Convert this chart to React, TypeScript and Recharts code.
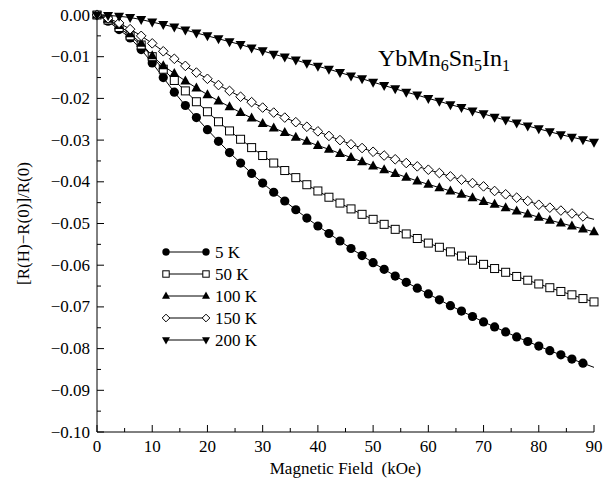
import React from 'react';
import { LineChart, Line, XAxis, YAxis } from 'recharts';

// magnetic field (kOe), one reading every 2 kOe
const fields = [
  0, 2, 4, 6, 8, 10, 12, 14, 16, 18, 20, 22, 24, 26, 28, 30, 32, 34, 36, 38, 40, 42, 44,
  46, 48, 50, 52, 54, 56, 58, 60, 62, 64, 66, 68, 70, 72, 74, 76, 78, 80, 82, 84, 86, 88, 90,
];

// [R(H)-R(0)]/R(0) for each temperature
const mr5K = [
  0, -0.0015, -0.0035, -0.0055, -0.0083, -0.0115, -0.015, -0.0185, -0.0217, -0.0246, -0.0275,
  -0.0303, -0.033, -0.0355, -0.038, -0.0403, -0.0425, -0.0446, -0.0467, -0.0487, -0.0506,
  -0.0524, -0.0542, -0.056, -0.0577, -0.0594, -0.061, -0.0626, -0.0641, -0.0655, -0.0669,
  -0.0683, -0.0697, -0.071, -0.0723, -0.0736, -0.0748, -0.076, -0.0772, -0.0783, -0.0794,
  -0.0805, -0.0815, -0.0825, -0.0835, -0.0845,
];
const mr50K = [
  0, -0.0012, -0.003, -0.005, -0.0072, -0.01, -0.013, -0.0157, -0.0182, -0.0208, -0.0232,
  -0.0256, -0.0278, -0.0298, -0.0318, -0.0337, -0.0355, -0.0373, -0.039, -0.0407, -0.0422,
  -0.0437, -0.0451, -0.0465, -0.0478, -0.049, -0.0502, -0.0514, -0.0525, -0.0536, -0.0547,
  -0.0557, -0.0568, -0.0578, -0.0588, -0.0598, -0.0608, -0.0617, -0.0627, -0.0636, -0.0645,
  -0.0654, -0.0663, -0.0671, -0.068, -0.0688,
];
const mr100K = [
  0, -0.001, -0.0025, -0.0045, -0.0068, -0.0098, -0.0122, -0.014, -0.0158, -0.0175, -0.0191,
  -0.0206, -0.022, -0.0234, -0.0247, -0.026, -0.0271, -0.0282, -0.0293, -0.0303, -0.0313,
  -0.0322, -0.0332, -0.0342, -0.0352, -0.0362, -0.0371, -0.038, -0.0389, -0.0398, -0.0406,
  -0.0414, -0.0422, -0.043, -0.0438, -0.0447, -0.0454, -0.0462, -0.047, -0.0477, -0.0485,
  -0.0492, -0.0499, -0.0506, -0.0513, -0.052,
];
const mr150K = [
  0, -0.0008, -0.0019, -0.0034, -0.005, -0.0068, -0.0087, -0.0105, -0.0122, -0.0138, -0.0153,
  -0.0168, -0.0182, -0.0196, -0.0209, -0.0222, -0.0234, -0.0246, -0.0257, -0.0268, -0.0279,
  -0.029, -0.03, -0.031, -0.0319, -0.0328, -0.0337, -0.0346, -0.0355, -0.0363, -0.0371,
  -0.0379, -0.0387, -0.0395, -0.0403, -0.0411, -0.0422, -0.043, -0.0438, -0.0446, -0.0455,
  -0.0462, -0.0469, -0.0476, -0.0483, -0.049,
];
const mr200K = [
  0, -0.0001, -0.0003, -0.0006, -0.0011, -0.0017, -0.0023, -0.0029, -0.0036, -0.0043, -0.005,
  -0.0057, -0.0064, -0.0071, -0.0079, -0.0086, -0.0094, -0.0101, -0.0108, -0.0116, -0.0123,
  -0.013, -0.0138, -0.0146, -0.0153, -0.0161, -0.0169, -0.0177, -0.0185, -0.0192, -0.02,
  -0.0207, -0.0215, -0.0222, -0.023, -0.0237, -0.0245, -0.0252, -0.0259, -0.0266, -0.0273,
  -0.028, -0.0287, -0.0293, -0.0299, -0.0305,
];

const seriesKeys = ['t5', 't50', 't100', 't150', 't200'];
const seriesNames = ['5 K', '50 K', '100 K', '150 K', '200 K'];
const seriesShapes = ['circle', 'square', 'triUp', 'diamond', 'triDown'];
// the 5 K and 150 K curves run on to 90 kOe without a symbol there
const lastSymbolHidden = [true, false, false, true, false];

const xTicks = [0, 5, 10, 15, 20, 25, 30, 35, 40, 45, 50, 55, 60, 65, 70, 75, 80, 85, 90];
const yTicks = [
  0, -0.005, -0.01, -0.015, -0.02, -0.025, -0.03, -0.035, -0.04, -0.045, -0.05, -0.055, -0.06,
  -0.065, -0.07, -0.075, -0.08, -0.085, -0.09, -0.095, -0.1,
];

const data = fields.map((h, i) => ({
  h,
  t5: mr5K[i],
  t50: mr50K[i],
  t100: mr100K[i],
  t150: mr150K[i],
  t200: mr200K[i],
}));

const serif = { fontFamily: 'Liberation Serif, serif' };

function Marker({ kind, cx, cy, s = 1 }: { kind: string; cx: number; cy: number; s?: number }) {
  if (cx == null || cy == null) return <g />;
  if (kind === 'circle') return <circle cx={cx} cy={cy} r={4.6 * s} fill="#000" />;
  if (kind === 'square') {
    const a = 4 * s;
    return <rect x={cx - a} y={cy - a} width={2 * a} height={2 * a} fill="#fff" stroke="#000" strokeWidth={1} />;
  }
  if (kind === 'diamond') {
    const a = 4.8 * s;
    return (
      <polygon
        points={`${cx},${cy - a} ${cx + a},${cy} ${cx},${cy + a} ${cx - a},${cy}`}
        fill="#fff"
        stroke="#000"
        strokeWidth={1}
      />
    );
  }
  if (kind === 'triUp') {
    return (
      <polygon
        points={`${cx},${cy - 5.5 * s} ${cx + 5 * s},${cy + 3.5 * s} ${cx - 5 * s},${cy + 3.5 * s}`}
        fill="#000"
      />
    );
  }
  return (
    <polygon
      points={`${cx - 5 * s},${cy - 3.5 * s} ${cx + 5 * s},${cy - 3.5 * s} ${cx},${cy + 5.5 * s}`}
      fill="#000"
    />
  );
}

const fmtY = (v: number) => (v < 0 ? '\u2212' : '') + Math.abs(v).toFixed(2);
const isMajorX = (v: number) => v % 10 === 0;
const isMajorY = (v: number) => Math.round(Math.abs(v) * 1000) % 10 === 0;

const BottomTick = ({ x, y, payload }: any) => {
  const major = isMajorX(payload.value);
  return (
    <g>
      <line x1={x} x2={x} y1={y} y2={y - (major ? 7 : 4)} stroke="#000" />
      {major && (
        <text x={x} y={y + 20} textAnchor="middle" fontSize={17} style={serif} fill="#000">
          {payload.value}
        </text>
      )}
    </g>
  );
};

const TopTick = ({ x, y, payload }: any) => {
  const major = isMajorX(payload.value);
  return <line x1={x} x2={x} y1={y} y2={y + (major ? 7 : 4)} stroke="#000" />;
};

const LeftTick = ({ x, y, payload }: any) => {
  const major = isMajorY(payload.value);
  return (
    <g>
      <line x1={x} x2={x + (major ? 7 : 4)} y1={y} y2={y} stroke="#000" />
      {major && (
        <text x={x - 7} y={y + 5.5} textAnchor="end" fontSize={17} style={serif} fill="#000">
          {fmtY(payload.value)}
        </text>
      )}
    </g>
  );
};

const RightTick = ({ x, y, payload }: any) => {
  const major = isMajorY(payload.value);
  return <line x1={x} x2={x - (major ? 7 : 4)} y1={y} y2={y} stroke="#000" />;
};

export default function App() {
  return (
    <div style={{ position: 'absolute', left: 0, top: 0, width: 605, height: 481, background: '#fff', ...serif }}>
      <LineChart
        width={605}
        height={481}
        data={data}
        margin={{ top: 15, right: 11, left: 0, bottom: 0 }}
        style={serif}
      >
        <XAxis
          xAxisId="top"
          orientation="top"
          type="number"
          dataKey="h"
          domain={[0, 90]}
          ticks={xTicks}
          interval={0}
          height={0}
          tickSize={0}
          tickMargin={0}
          tick={<TopTick />}
          axisLine={{ stroke: '#000' }}
          tickLine={false}
        />
        <XAxis
          xAxisId="bottom"
          type="number"
          dataKey="h"
          domain={[0, 90]}
          ticks={xTicks}
          interval={0}
          height={49}
          tickSize={0}
          tickMargin={0}
          tick={<BottomTick />}
          axisLine={{ stroke: '#000' }}
          tickLine={false}
        />
        <YAxis
          yAxisId="left"
          type="number"
          domain={[-0.1, 0]}
          ticks={yTicks}
          interval={0}
          width={97}
          tickSize={0}
          tickMargin={0}
          tick={<LeftTick />}
          axisLine={{ stroke: '#000' }}
          tickLine={false}
        />
        <YAxis
          yAxisId="right"
          orientation="right"
          type="number"
          domain={[-0.1, 0]}
          ticks={yTicks}
          interval={0}
          width={0}
          tickSize={0}
          tickMargin={0}
          tick={<RightTick />}
          axisLine={{ stroke: '#000' }}
          tickLine={false}
        />
        {seriesKeys.map((key, si) => (
          <Line
            key={key}
            xAxisId="bottom"
            yAxisId="left"
            type="linear"
            dataKey={key}
            name={seriesNames[si]}
            stroke="#000"
            strokeWidth={1}
            isAnimationActive={false}
            dot={(p: any) => {
              if (lastSymbolHidden[si] && p.index === fields.length - 1) return <g key={`${key}-${p.index}`} />;
              return (
                <g key={`${key}-${p.index}`}>
                  <Marker kind={seriesShapes[si]} cx={p.cx} cy={p.cy} />
                </g>
              );
            }}
            activeDot={false}
          />
        ))}

        {/* sample name */}
        <text x={378} y={66} fontSize={24} style={serif} fill="#000">
          YbMn<tspan fontSize={16} dy={5}>6</tspan>
          <tspan dy={-5}>Sn</tspan>
          <tspan fontSize={16} dy={5}>5</tspan>
          <tspan dy={-5}>In</tspan>
          <tspan fontSize={16} dy={5}>1</tspan>
        </text>

        {/* legend */}
        {seriesNames.map((name, i) => {
          const y = 252 + i * 22;
          return (
            <g key={name}>
              <line x1={166} x2={206} y1={y} y2={y} stroke="#000" />
              <Marker kind={seriesShapes[i]} cx={166} cy={y} s={0.8} />
              <Marker kind={seriesShapes[i]} cx={206} cy={y} s={0.8} />
              <text x={215} y={y + 6} fontSize={17} style={serif} fill="#000">
                {name}
              </text>
            </g>
          );
        })}

        {/* axis titles */}
        <text x={345.5} y={474} textAnchor="middle" fontSize={17} style={serif} fill="#000">
          {'Magnetic Field\u00A0 (kOe)'}
        </text>
        <text
          x={23}
          y={223.5}
          transform="rotate(-90 23 223.5)"
          textAnchor="middle"
          dominantBaseline="central"
          fontSize={17}
          style={serif}
          fill="#000"
        >
          [R(H)−R(0)]/R(0)
        </text>
      </LineChart>
    </div>
  );
}
